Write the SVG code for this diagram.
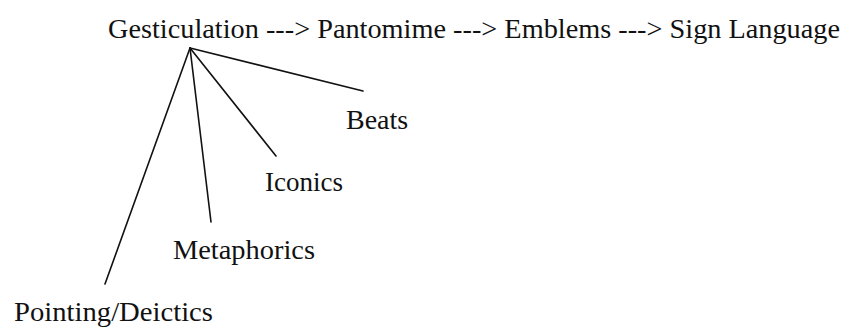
<svg xmlns="http://www.w3.org/2000/svg" width="852" height="329" viewBox="0 0 852 329">
<style>
text{font-family:"Liberation Serif","Times New Roman",serif;font-size:28px;fill:#111}
.c line{stroke:#111;stroke-width:1.6;stroke-linecap:round}
</style>
<rect width="852" height="329" fill="#fff"/>
<g id="top"><text x="108" y="38" textLength="732" lengthAdjust="spacingAndGlyphs">Gesticulation ---&gt; Pantomime ---&gt; Emblems ---&gt; Sign Language</text></g>
<g class="c" id="connectors">
<line x1="190" y1="48" x2="363" y2="91"/>
<line x1="190" y1="48" x2="276" y2="156"/>
<line x1="190" y1="48" x2="211" y2="222"/>
<line x1="190" y1="48" x2="105" y2="284"/>
</g>
<g id="beats"><text x="346" y="129">Beats</text></g>
<g id="iconics"><text x="265" y="191" style="font-size:27px">Iconics</text></g>
<g id="metaphorics"><text x="173" y="259" textLength="142" lengthAdjust="spacingAndGlyphs">Metaphorics</text></g>
<g id="pointing"><text x="14" y="321" textLength="199" lengthAdjust="spacingAndGlyphs">Pointing/Deictics</text></g>
</svg>
